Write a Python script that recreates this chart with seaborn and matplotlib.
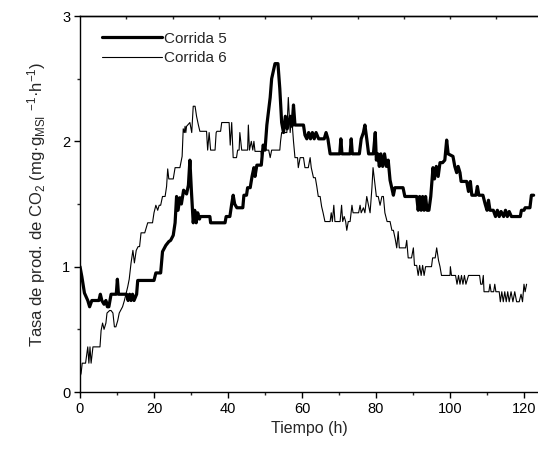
import numpy as np
import pandas as pd
import matplotlib
matplotlib.use("Agg")
import matplotlib.pyplot as plt
import seaborn as sns

sns.set_theme(style="ticks")
plt.rcParams['font.family'] = ['Liberation Sans', 'DejaVu Sans']
plt.rcParams['mathtext.fontset'] = 'custom'
plt.rcParams['mathtext.rm'] = 'Liberation Sans'
plt.rcParams['mathtext.it'] = 'Liberation Sans'

# ---- data ----
t5 = [0, 0.5, 1.2, 2.1, 2.6, 3.2, 5.1, 5.5, 5.9, 6.5, 7.0, 7.4, 7.8, 8.4, 9.8, 10.1, 10.4, 12.6, 13.0, 13.4,
      13.8, 14.2, 14.6, 15.3, 15.6, 20.0, 20.5, 21.8, 22.3, 23.2, 24.0, 24.5, 25.2, 25.7, 26.1, 26.5, 27.0, 27.4,
      28.0, 28.8, 29.3, 29.7, 30.1, 30.6, 31.0, 31.4, 31.8, 32.3, 32.5, 35.1, 35.3, 39.2, 39.5, 40.5, 41.0, 41.4,
      41.8, 42.4, 44.0, 44.3, 45.0, 45.3, 46.0, 46.5, 47.0, 47.3, 47.8, 49.0, 49.5, 50.0, 50.5, 51.4, 51.8, 52.7,
      53.5, 54.0, 54.5, 55.0, 55.5, 56.0, 56.8, 57.3, 57.7, 58.1, 60.4, 60.8, 61.3, 61.8, 62.3, 62.8, 63.3, 63.8,
      64.5, 66.0, 66.5, 67.0, 67.6, 70.2, 70.5, 70.8, 73.0, 73.3, 73.6, 75.5, 76.0, 76.6, 77.0, 77.5, 78.0, 79.3,
      79.8, 80.1, 80.5, 80.9, 81.3, 81.8, 82.3, 82.8, 83.3, 83.8, 84.7, 85.1, 87.3, 87.8, 91.0, 91.4, 91.8, 92.2,
      92.6, 93.0, 93.4, 93.8, 94.3, 94.8, 95.4, 95.8, 96.3, 96.8, 97.3, 98.0, 98.6, 99.1, 99.5, 100.8, 101.3,
      101.8, 102.2, 102.7, 103.0, 104.5, 105.0, 105.5, 105.9, 107.0, 107.4, 107.8, 108.9, 109.5, 110.0, 110.4,
      110.8, 111.7, 112.3, 112.8, 113.3, 113.8, 114.5, 115.0, 115.5, 116.0, 116.6, 117.2, 118.0, 119.0, 119.3,
      120.0, 120.3, 121.6, 122.0, 122.6]
v5 = [1.00, 0.92, 0.79, 0.73, 0.68, 0.73, 0.73, 0.78, 0.73, 0.70, 0.73, 0.68, 0.68, 0.78, 0.78, 0.90, 0.78, 0.78, 0.73, 0.78,
      0.73, 0.78, 0.73, 0.78, 0.89, 0.89, 0.95, 0.95, 1.12, 1.17, 1.20, 1.21, 1.25, 1.35, 1.56, 1.45, 1.55, 1.50,
      1.61, 1.58, 1.65, 1.85, 1.61, 1.35, 1.45, 1.35, 1.43, 1.38, 1.40, 1.40, 1.35, 1.35, 1.40, 1.40, 1.50, 1.57,
      1.50, 1.47, 1.47, 1.57, 1.57, 1.63, 1.63, 1.72, 1.79, 1.72, 1.81, 1.81, 1.97, 1.93, 2.13, 2.35, 2.50, 2.62,
      2.62, 2.42, 2.15, 2.07, 2.20, 2.10, 2.20, 2.12, 2.29, 2.13, 2.13, 2.05, 2.02, 2.07, 2.02, 2.07, 2.02, 2.07,
      2.02, 2.02, 2.07, 2.02, 1.90, 1.90, 2.02, 1.90, 1.90, 2.02, 1.90, 1.90, 2.02, 2.07, 2.13, 2.02, 1.90, 1.90,
      2.07, 1.85, 1.90, 1.80, 1.90, 1.80, 1.90, 1.80, 1.85, 1.69, 1.57, 1.63, 1.63, 1.56, 1.56, 1.45, 1.56, 1.45,
      1.56, 1.45, 1.56, 1.45, 1.45, 1.56, 1.79, 1.70, 1.80, 1.72, 1.83, 1.83, 1.85, 2.01, 1.90, 1.88, 1.80,
      1.75, 1.80, 1.75, 1.68, 1.68, 1.60, 1.68, 1.57, 1.57, 1.64, 1.57, 1.57, 1.50, 1.45, 1.53,
      1.45, 1.45, 1.40, 1.45, 1.40, 1.44, 1.40, 1.45, 1.40, 1.44, 1.40, 1.40, 1.40, 1.40, 1.45,
      1.45, 1.47, 1.47, 1.57, 1.57]

t6 = [0, 0.3, 0.6, 1.5, 2.1, 2.4, 2.7, 3.0, 3.5, 5.4, 5.7, 6.1, 6.5, 7.0, 7.3, 8.0, 8.4, 8.9, 9.3, 9.7, 10.2,
      10.6, 11.5, 12.0, 12.9, 13.3, 13.8, 14.3, 14.7, 15.2, 15.7, 16.1, 16.5, 17.5, 18.3, 19.6, 20.0, 20.5, 21.0,
      21.4, 21.8, 22.3, 23.0, 23.4, 23.7, 24.0, 25.2, 25.7, 27.0, 27.6, 27.9, 28.2, 28.4, 28.6, 28.8, 29.7, 30.2,
      30.6, 31.1, 31.5, 32.0, 32.4, 34.2, 34.5, 34.9, 35.3, 36.5, 36.8, 37.0, 38.0, 38.3, 40.3, 40.6, 41.0, 41.4,
      42.3, 42.6, 43.0, 43.2, 43.7, 45.3, 45.5, 45.8, 46.3, 46.7, 47.0, 47.3, 48.9, 49.1, 49.5, 51.0, 51.4, 51.8,
      54.0, 54.2, 54.5, 55.9, 56.3, 56.8, 57.2, 57.7, 58.1, 58.8, 59.0, 59.5, 60.4, 60.8, 61.7, 62.2, 62.5, 63.1,
      63.6, 64.0, 64.4, 64.9, 65.3, 65.7, 66.2, 67.6, 67.9, 68.2, 68.6, 68.9, 70.3, 70.7, 71.0, 71.4, 71.8, 72.1,
      72.5, 73.0, 73.5, 73.8, 75.3, 75.7, 76.0, 76.6, 77.0, 77.5, 77.9, 78.4, 78.9, 79.2, 79.7, 80.1, 80.6, 81.1,
      81.6, 82.0, 82.4, 83.0, 83.8, 84.3, 84.7, 85.2, 85.6, 86.0, 86.3, 88.0, 88.3, 88.7, 89.6, 90.1, 90.4, 91.0,
      91.4, 91.8, 92.2, 92.6, 93.0, 93.4, 95.0, 95.3, 96.0, 96.4, 96.9, 97.3, 97.7, 100.0, 100.1, 100.4,
      101.5, 101.9, 102.3, 102.7, 103.1, 103.5, 103.9, 104.3, 105.0, 108.0, 108.3, 108.7, 109.0, 109.2, 110.5,
      110.8, 111.1, 111.8, 112.1, 112.4, 113.3, 113.6, 114.0, 114.4, 114.8, 115.2, 115.6, 116.0, 116.5, 117.0,
      117.5, 118.0, 118.7, 119.2, 119.6, 120.0, 120.3, 120.7]
v6 = [0.12, 0.15, 0.23, 0.23, 0.36, 0.23, 0.36, 0.23, 0.36, 0.36, 0.49, 0.55, 0.50, 0.55, 0.63, 0.65, 0.65, 0.63, 0.52, 0.52, 0.57,
      0.63, 0.68, 0.73, 0.84, 0.90, 1.03, 1.13, 1.03, 1.13, 1.16, 1.16, 1.27, 1.27, 1.35, 1.35, 1.43, 1.49, 1.45,
      1.49, 1.49, 1.56, 1.56, 1.64, 1.78, 1.70, 1.70, 1.79, 1.79, 1.88, 2.10, 2.07, 2.12, 2.07, 2.12, 2.15, 2.07,
      2.28, 2.28, 2.20, 2.13, 2.08, 2.08, 1.93, 2.07, 1.93, 1.93, 2.07, 2.08, 2.08, 2.15, 2.15, 1.97, 2.15, 1.87,
      1.87, 1.93, 1.93, 2.07, 1.93, 1.93, 2.13, 1.93, 2.00, 1.93, 2.00, 1.92, 1.92, 1.87, 1.93, 1.93, 1.87, 1.93,
      1.93, 2.00, 2.07, 2.07, 2.35, 2.07, 2.20, 2.00, 1.87, 1.87, 1.79, 1.87, 1.87, 1.79, 1.79, 1.87, 1.79, 1.71,
      1.71, 1.64, 1.56, 1.56, 1.48, 1.43, 1.36, 1.36, 1.43, 1.36, 1.49, 1.36, 1.36, 1.49, 1.36, 1.40, 1.36, 1.29,
      1.36, 1.36, 1.49, 1.43, 1.43, 1.49, 1.43, 1.47, 1.43, 1.56, 1.50, 1.43, 1.63, 1.79, 1.66, 1.56, 1.56, 1.49,
      1.56, 1.56, 1.43, 1.36, 1.36, 1.29, 1.29, 1.22, 1.15, 1.28, 1.15, 1.15, 1.21, 1.07, 1.07, 1.15, 1.01, 1.01,
      0.93, 1.01, 0.93, 1.01, 0.93, 1.00, 1.00, 1.07, 1.07, 1.15, 1.05, 1.00, 0.93, 0.93, 1.00, 0.93,
      0.93, 0.86, 0.93, 0.86, 0.93, 0.86, 0.93, 0.86, 0.93, 0.93, 0.86, 0.86, 0.93, 0.80, 0.80,
      0.86, 0.80, 0.80, 0.86, 0.80, 0.80, 0.72, 0.80, 0.72, 0.80, 0.72, 0.80, 0.72, 0.80, 0.72,
      0.80, 0.72, 0.72, 0.78, 0.72, 0.86, 0.80, 0.86]

labels = ["Corrida 5", "Corrida 6"]
x_ticks = [0, 20, 40, 60, 80, 100, 120]
y_ticks = [0, 1, 2, 3]

df5 = pd.DataFrame({"t": t5, "v": v5})
df6 = pd.DataFrame({"t": t6, "v": v6})

fig = plt.figure(figsize=(5.38, 4.5), dpi=100)
ax = fig.add_axes([80 / 538, 58 / 450, 458 / 538, 376 / 450])

sns.lineplot(data=df5, x="t", y="v", ax=ax, color="black", linewidth=2.3,
             estimator=None, sort=False, label=labels[0])
sns.lineplot(data=df6, x="t", y="v", ax=ax, color="black", linewidth=0.8,
             estimator=None, sort=False, label=labels[1])

ax.set_xlim(0, 458 / 3.7)
ax.set_ylim(0, 3)
ax.set_xticks(x_ticks)
ax.set_yticks(y_ticks)
ax.set_xticks(np.arange(10, 124, 20), minor=True)
ax.set_yticks([0.5, 1.5, 2.5], minor=True)
ax.tick_params(axis="both", which="major", direction="out", length=4, width=1,
               labelsize=10.5, colors="black", pad=3)
ax.tick_params(axis="both", which="minor", direction="out", length=2.5, width=1)
for s in ["left", "bottom", "top"]:
    ax.spines[s].set_linewidth(1.0)
    ax.spines[s].set_color("black")
ax.spines["right"].set_visible(False)

sec = ax.secondary_xaxis("top")
sec.set_xticks(np.arange(12.5, 124, 12.5))
sec.tick_params(direction="in", length=2, width=1, labeltop=False)
sec.spines["top"].set_linewidth(1.0)

ax.set_xlabel("Tiempo (h)", fontsize=11.5, labelpad=4)
ax.set_ylabel(r"Tasa de prod. de CO$_2$ (mg·g$_{\mathrm{MSI}}$ $^{-1}$·h$^{-1}$)",
              fontsize=12, labelpad=10)

leg = ax.legend(loc="upper left", frameon=False, fontsize=11, handlelength=3.9,
                handletextpad=0.15, labelspacing=0.35, borderaxespad=0.0,
                bbox_to_anchor=(0.035, 0.975))

fig.savefig("out.png", dpi=100)
